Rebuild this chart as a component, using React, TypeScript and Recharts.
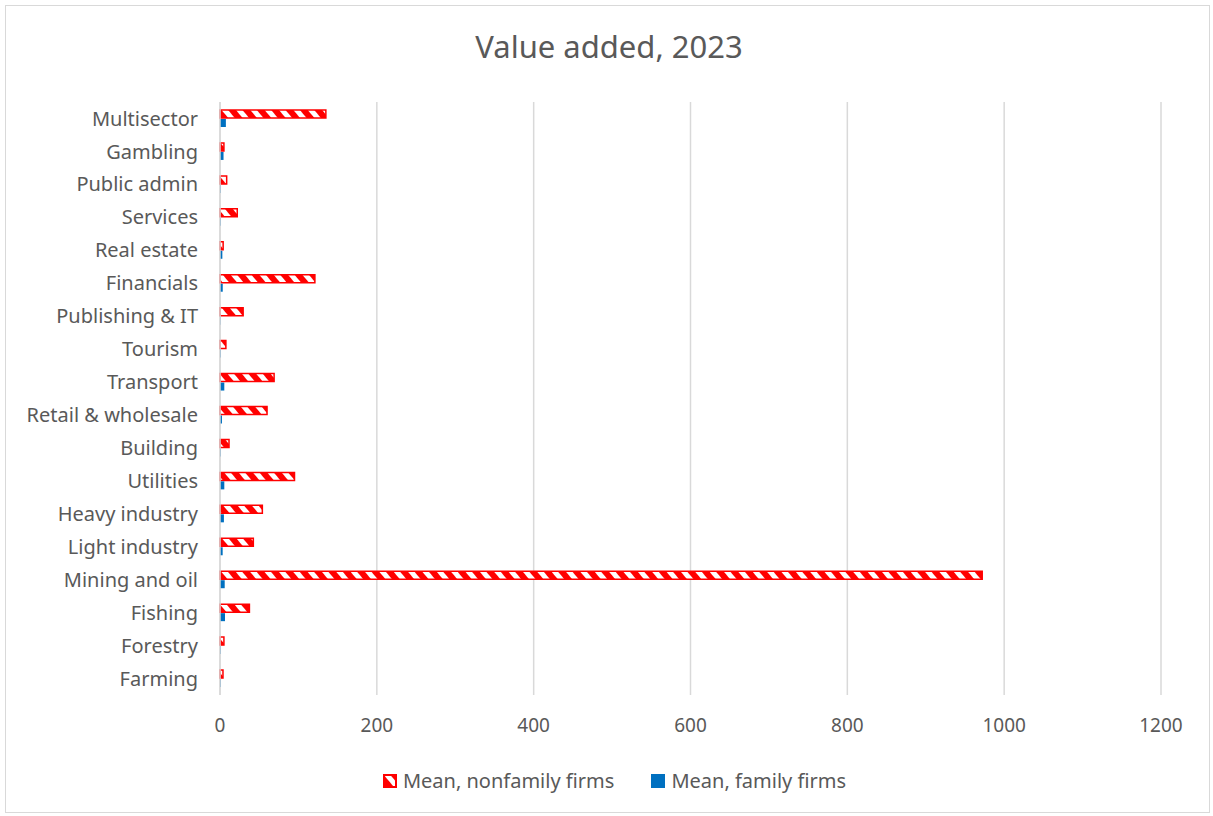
import { BarChart, Bar, XAxis, YAxis, CartesianGrid, Legend } from 'recharts'

const sectors = [
  'Multisector', 'Gambling', 'Public admin', 'Services', 'Real estate', 'Financials',
  'Publishing & IT', 'Tourism', 'Transport', 'Retail & wholesale', 'Building', 'Utilities',
  'Heavy industry', 'Light industry', 'Mining and oil', 'Fishing', 'Forestry', 'Farming',
]
const nonfamily = [135, 5, 8.5, 22, 4, 121, 29.5, 7.5, 69, 60, 11.5, 95, 54, 42.5, 972, 37.5, 5, 3.8]
const family = [7.5, 4.5, 1, 1, 3, 3.5, 0.6, 1, 5.5, 2.5, 1, 5.5, 5, 3.4, 6, 6.4, 1, 1]
const xTicks = [0, 200, 400, 600, 800, 1000, 1200]

const data = sectors.map((s, i) => ({ sector: s, nonfamily: nonfamily[i], family: family[i] }))

const FONT = '"Noto Sans", "Open Sans", sans-serif'
const TEXT = '#595959'

function LegendBox() {
  return (
    <div style={{ display: 'flex', justifyContent: 'center', gap: 37, paddingLeft: 16, fontFamily: FONT, fontSize: 20, color: TEXT }}>
      <span style={{ display: 'flex', alignItems: 'center', gap: 6 }}>
        <svg width="14" height="14">
          <rect x="1" y="1" width="12" height="12" fill="url(#redStripes)" stroke="#ff0000" strokeWidth="2" />
        </svg>
        Mean, nonfamily firms
      </span>
      <span style={{ display: 'flex', alignItems: 'center', gap: 6 }}>
        <svg width="14" height="14">
          <rect x="0" y="0" width="14" height="14" fill="#0070c0" />
        </svg>
        Mean, family firms
      </span>
    </div>
  )
}

export default function App() {
  return (
    <div style={{ position: 'absolute', left: 0, top: 0, width: 1213, height: 816, background: '#fff' }}>
      <div style={{ position: 'absolute', left: 5, top: 5, width: 1203, height: 806, border: '1px solid #d9d9d9' }} />
      <div style={{ position: 'absolute', left: 0, top: 25, width: 1218, textAlign: 'center', fontFamily: FONT, fontSize: 31, color: TEXT }}>
        Value added, 2023
      </div>
      <div style={{ position: 'absolute', left: 0, top: 0 }}>
        <BarChart
          width={1213}
          height={816}
          data={data}
          layout="vertical"
          margin={{ top: 102, right: 52, bottom: 54, left: 10 }}
          barSize={8}
          barGap={1}
        >
          <defs>
            <pattern id="redStripes" patternUnits="userSpaceOnUse" width="11" height="11" patternTransform="rotate(-40)">
              <rect width="11" height="11" fill="#ff0000" />
              <rect width="5" height="11" fill="#ffffff" />
            </pattern>
          </defs>
          <CartesianGrid horizontal={false} stroke="#d9d9d9" strokeWidth={1.5} />
          <XAxis
            type="number"
            domain={[0, 1200]}
            ticks={xTicks}
            axisLine={false}
            tickLine={false}
            tickMargin={18}
            height={40}
            tick={{ fill: TEXT, fontSize: 19, fontFamily: FONT }}
          />
          <YAxis
            type="category"
            dataKey="sector"
            width={210}
            axisLine={{ stroke: '#d9d9d9', strokeWidth: 1.5 }}
            tickLine={false}
            tickSize={6}
            tickMargin={16}
            interval={0}
            tick={{ fill: TEXT, fontSize: 20, fontFamily: FONT }}
          />
          <Legend verticalAlign="bottom" wrapperStyle={{ bottom: 22, left: 0, width: 1213 }} content={() => <LegendBox />} />
          <Bar dataKey="nonfamily" name="Mean, nonfamily firms" fill="url(#redStripes)" stroke="#ff0000" strokeWidth={1.5} isAnimationActive={false} />
          <Bar dataKey="family" name="Mean, family firms" fill="#0070c0" isAnimationActive={false} />
        </BarChart>
      </div>
    </div>
  )
}
